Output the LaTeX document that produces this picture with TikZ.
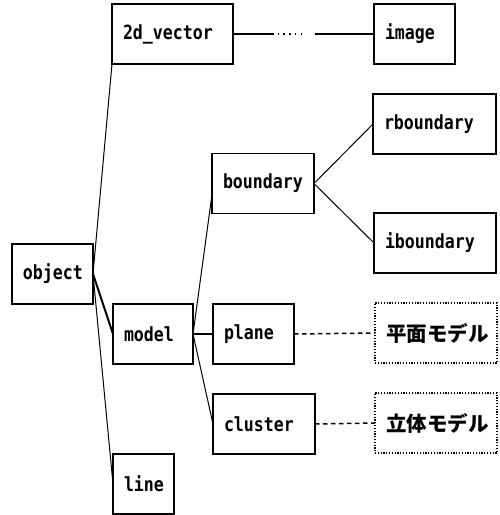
\documentclass[tikz,border=0pt]{standalone}
\usepackage{fontspec}
\setmonofont[FakeStretch=0.85]{DejaVu Sans Mono}
\newfontfamily\jpfont{Noto Sans CJK JP}
\usetikzlibrary{calc}
\tikzset{
  cls/.style={draw, line width=1.2pt, minimum height=60pt, text width=#1,
    inner xsep=11pt, inner ysep=0pt, outer sep=0pt, align=left,
    font=\fontsize{19.5pt}{21pt}\ttfamily\bfseries},
  jpbox/.style={cls=#1, dash pattern=on 1.2pt off 1.6pt, line width=1.1pt,
    font=\fontsize{20.5pt}{23pt}\jpfont\bfseries},
  link/.style={line width=1pt},
  heavy/.style={line width=2pt},
  weak/.style={line width=1.5pt, dash pattern=on 4.5pt off 3.5pt}
}
\begin{document}
\begin{tikzpicture}[x=1pt,y=-1pt]
\useasboundingbox (0,0) rectangle (499,515);
% class nodes
\node[cls=99pt]  (vec)    at (172.5,34)  {2d\_vector};
\node[cls=59pt]  (img)    at (414.5,34)  {image};
\node[cls=80pt]  (bnd)    at (263,183.5) {boundary};
\node[cls=101pt] (rbnd)   at (434.5,124) {rboundary};
\node[cls=100pt] (ibnd)   at (435,243)   {iboundary};
\node[cls=59pt]  (obj)    at (52.5,274)  {object};
\node[cls=58pt]  (model)  at (153,334)   {model};
\node[cls=59pt]  (plane)  at (253.5,334) {plane};
\node[cls=80pt]  (clus)   at (264,424)   {cluster};
\node[cls=39pt]  (ln)     at (143.5,484) {line};
\node[jpbox=100pt] (flat)  at (436,333) {平面モデル};
\node[jpbox=100pt] (solid) at (436,423) {立体モデル};
% tree links
\draw[link]  (obj.east) -- (vec.south west);
\draw[heavy] (obj.east) -- (model.west);
\draw[link]  (obj.east) -- (ln.west);
\draw[link]  (model.east) -- ([yshift=-11pt]bnd.west);
\draw[heavy] (model.east) -- (plane.west);
\draw[link]  (model.east) -- (clus.west);
\draw[link]  (bnd.east) -- (rbnd.west);
\draw[link]  (bnd.east) -- (ibnd.west);
% 2d_vector -- image, partly dotted
\coordinate (d1) at ($(vec.east)+(39,0)$);
\coordinate (d2) at ($(vec.east)+(72,0)$);
\coordinate (d3) at ($(vec.east)+(82,0)$);
\draw[line width=1.2pt] (vec.east) -- (d1);
\draw[line width=1.2pt, dash pattern=on 1.5pt off 4.2pt] (d1) -- (d2);
\draw[line width=1.2pt] (d3) -- (img.west);
% dashed links to the model variants
\draw[weak] (plane.east) -- (flat.west);
\draw[weak] (clus.east) -- (solid.west);
\end{tikzpicture}
\end{document}
